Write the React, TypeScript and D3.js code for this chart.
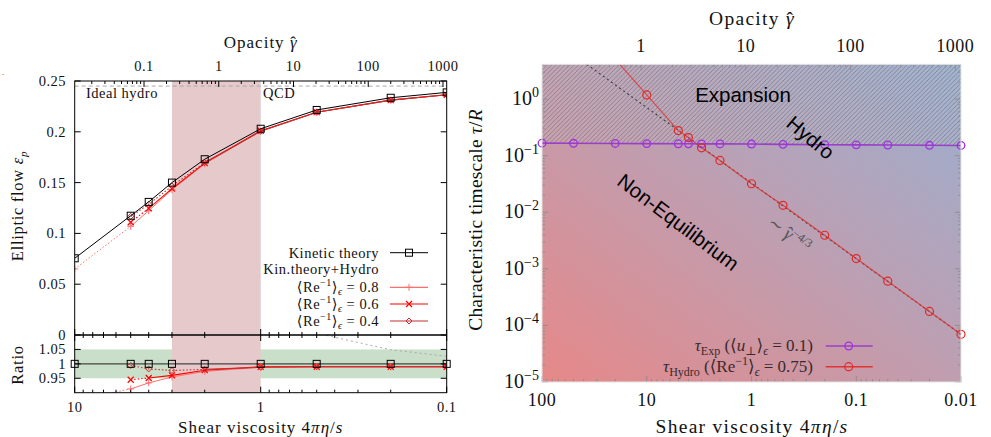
import React from 'react';
import * as d3 from 'd3';

// ---------- Left panel data ----------
const viscLeft = [10, 5, 4, 3, 2, 1, 0.5, 0.2, 0.1];
const kinetic = [0.0755, 0.1174, 0.131, 0.15, 0.173, 0.203, 0.2215, 0.2335, 0.2388];
const hydro08 = [0.065, 0.107, 0.1223, 0.143, 0.1685, 0.2006, 0.2193, 0.2312, 0.2364];
const hydro06 = [null, 0.111, 0.1246, 0.144, 0.1692, 0.201, 0.2193, 0.2312, 0.2364];
const hydro04 = [null, 0.1167, 0.1287, 0.1466, 0.1697, 0.2006, 0.2193, 0.2312, 0.2364];
const ratioKin = [1, 1, 1, 1, 1, 1, 1, 1, 1];
const ratio08 = [0.874, 0.913, 0.934, 0.9545, 0.974, 0.988, 0.99, 0.99, 0.99];
const ratio06 = [null, 0.945, 0.951, 0.96, 0.978, 0.99, 0.99, 0.99, 0.99];
const ratio04 = [null, 0.9944, 0.9825, 0.977, 0.981, 0.988, 0.99, 0.99, 0.99];
const idealVisc = [0.5, 0.2, 0.1];
const idealRatio = [1.106, 1.049, 1.026];
const idealHydro = 0.245;
const qcdBand = [3, 1];
const ratioBand = [0.95, 1.05];
const mainTicks = [0, 0.05, 0.1, 0.15, 0.2, 0.25];
const mainTickLabels = ['0', '0.05', '0.1', '0.15', '0.2', '0.25'];
const ratioTicks = [0.95, 1, 1.05];
const ratioTickLabels = ['0.95', '1', '1.05'];
const viscTicksL = [10, 1, 0.1];
const viscTickLabelsL = ['10', '1', '0.1'];
const opacTicksL = [0.1, 1, 10, 100, 1000];
const opacTickLabelsL = ['0.1', '1', '10', '100', '1000'];

// ---------- Right panel data ----------
const viscExp = [100, 50, 20, 10, 5, 4, 3, 2, 1, 0.5, 0.2, 0.1, 0.05, 0.02, 0.01];
const tauExp = [0.167, 0.166, 0.165, 0.164, 0.163, 0.163, 0.162, 0.162, 0.161, 0.159, 0.157, 0.156, 0.155, 0.153, 0.152];
const viscHydro = [20, 10, 5, 4, 3, 2, 1, 0.5, 0.2, 0.1, 0.05, 0.02, 0.01];
const tauHydro = [5.1, 1.19, 0.279, 0.21, 0.138, 0.0826, 0.032, 0.0133, 0.00393, 0.00152, 0.000607, 0.000177, 0.0000697];
const guideVisc = [37.4, 0.01];
const guideTau = [4.14, 0.0000697];
const viscTicksR = [100, 10, 1, 0.1, 0.01];
const viscTickLabelsR = ['100', '10', '1', '0.1', '0.01'];
const opacTicksR = [1, 10, 100, 1000];
const opacTickLabelsR = ['1', '10', '100', '1000'];
const tauTickExp = [0, -1, -2, -3, -4, -5];

// ---------- Scales ----------
const L = { x0: 74.7, x1: 446.7, yTop: 81, yMid: 335, yBot: 392.7 };
const xL = d3.scaleLog().domain([10, 0.1]).range([L.x0, L.x1]);
const xLtop = d3.scaleLog().domain([0.01182, 1121]).range([L.x0, L.x1]);
const yMain = d3.scaleLinear().domain([0, 0.25]).range([L.yMid, L.yTop]);
const yRat = d3.scaleLinear().domain([0.9, 1.1]).range([L.yBot, L.yMid]);

const R = { x0: 542, x1: 961, y0: 64.3, y1: 382 };
const xR = d3.scaleLog().domain([100, 0.01]).range([R.x0, R.x1]);
const xRtop = d3.scaleLog().domain([0.1135, 1135]).range([R.x0, R.x1]);
const yR = d3.scaleLog().domain([1e-5, 4.14]).range([R.y1, R.y0]);

function logMinor(domain: number[]) {
  const lo = Math.min(domain[0], domain[1]);
  const hi = Math.max(domain[0], domain[1]);
  const out: number[] = [];
  for (let k = Math.floor(Math.log10(lo)) - 1; k <= Math.ceil(Math.log10(hi)); k++) {
    for (let m = 1; m <= 9; m++) {
      const v = m * Math.pow(10, k);
      if (v >= lo * 0.999 && v <= hi * 1.001) out.push(v);
    }
  }
  return out;
}

const serif = "'Liberation Serif', 'DejaVu Serif', serif";
const sans = "'Liberation Sans', Arial, sans-serif";

const red08 = '#ff6e6e';
const red06 = '#ff0000';
const red04 = '#c43030';

function segs(xs: number[], ys: (number | null)[], dottedUntil: number) {
  const pts: [number, number, number][] = [];
  xs.forEach((x, i) => { if (ys[i] != null) pts.push([x, ys[i] as number, i]); });
  const dotted = pts.filter(p => p[2] <= dottedUntil);
  const solid = pts.filter(p => p[2] >= dottedUntil);
  return { dotted, solid, pts };
}

function Marker({ type, x, y, color }: { type: string; x: number; y: number; color: string }) {
  if (type === 'square') return <rect x={x - 3.5} y={y - 3.5} width={7} height={7} fill="none" stroke={color} strokeWidth={1} />;
  if (type === 'plus') return <path d={`M${x - 3.5},${y}h7M${x},${y - 3.5}v7`} stroke={color} strokeWidth={1} />;
  if (type === 'cross') return <path d={`M${x - 3},${y - 3}l6,6M${x - 3},${y + 3}l6,-6`} stroke={color} strokeWidth={1.2} />;
  if (type === 'diamond') return <path d={`M${x},${y - 3}l3,3l-3,3l-3,-3z`} fill="none" stroke={color} strokeWidth={1} />;
  return null;
}

function GammaHat() {
  return (
    <>
      <tspan fontStyle="italic">γ</tspan>
      <tspan dx="-0.43em" dy="-0.02em" letterSpacing={0}>ˆ</tspan>
    </>
  );
}

function SeriesL({ ys, yScale, color, marker, dottedUntil, width }: any) {
  const { dotted, solid, pts } = segs(viscLeft, ys, dottedUntil);
  const line = d3.line<[number, number, number]>().x(p => xL(p[0])).y(p => yScale(p[1]));
  return (
    <g>
      {dotted.length > 1 && <path d={line(dotted) || ''} fill="none" stroke={color} strokeWidth={width} strokeDasharray="1.5,2" />}
      {solid.length > 1 && <path d={line(solid) || ''} fill="none" stroke={color} strokeWidth={width} />}
      {pts.map((p, i) => {
        const yy = yScale(p[1]);
        if (yy > L.yBot + 1) return null;
        return <Marker key={i} type={marker} x={xL(p[0])} y={yy} color={color} />;
      })}
    </g>
  );
}

function LeftPanel() {
  const fs = 14.5;
  const minorB = logMinor(xL.domain());
  const minorT = logMinor(xLtop.domain());
  const kinPts = viscLeft.map((v, i) => [v, kinetic[i]] as [number, number]);
  const legendRows = [252.7, 269.3, 287.3, 304, 321];
  const lgTextX = 379;
  const lgX0 = 390, lgX1 = 428, lgM = 409;
  const idealLine = d3.line<number>().x((v) => xL(v)).y((_, i) => yRat(idealRatio[i]));
  return (
    <g fontFamily={serif} fontSize={fs} fill="#111" letterSpacing={0.5}>
      <defs>
        <clipPath id="clipMain"><rect x={L.x0} y={L.yTop} width={L.x1 - L.x0} height={L.yMid - L.yTop} /></clipPath>
        <clipPath id="clipRat"><rect x={L.x0} y={L.yMid} width={L.x1 - L.x0} height={L.yBot - L.yMid} /></clipPath>
      </defs>
      <rect x={L.x0} y={yRat(ratioBand[1])} width={L.x1 - L.x0} height={yRat(ratioBand[0]) - yRat(ratioBand[1])} fill="#c9dfc9" />
      <rect x={xL(qcdBand[0])} y={L.yTop} width={xL(qcdBand[1]) - xL(qcdBand[0])} height={L.yBot - L.yTop} fill="#e6c9ca" />
      <line x1={L.x0} x2={L.x1} y1={yMain(idealHydro)} y2={yMain(idealHydro)} stroke="#aaa" strokeDasharray="4,3" strokeWidth={1} />
      <g clipPath="url(#clipRat)">
        <path d={idealLine(idealVisc) || ''} fill="none" stroke="#aaa" strokeDasharray="2,3" strokeWidth={1} />
      </g>
      <g clipPath="url(#clipMain)">
        <SeriesL ys={hydro08} yScale={yMain} color={red08} marker="plus" dottedUntil={1} width={1} />
        <SeriesL ys={hydro06} yScale={yMain} color={red06} marker="cross" dottedUntil={2} width={1.1} />
        <SeriesL ys={hydro04} yScale={yMain} color={red04} marker="diamond" dottedUntil={4} width={1.1} />
        <path d={d3.line<[number, number]>().x(p => xL(p[0])).y(p => yMain(p[1]))(kinPts) || ''} fill="none" stroke="#000" strokeWidth={1} />
        {kinPts.map((p, i) => <Marker key={i} type="square" x={xL(p[0])} y={yMain(p[1])} color="#000" />)}
      </g>
      <g clipPath="url(#clipRat)">
        <path d={d3.line<number>().x(v => xL(v)).y((_, i) => yRat(ratioKin[i]))(viscLeft) || ''} fill="none" stroke="#444" strokeWidth={1.4} />
        <SeriesL ys={ratio08} yScale={yRat} color={red08} marker="plus" dottedUntil={1} width={1} />
        <SeriesL ys={ratio06} yScale={yRat} color={red06} marker="cross" dottedUntil={2} width={1.1} />
        <SeriesL ys={ratio04} yScale={yRat} color={red04} marker="diamond" dottedUntil={4} width={1.1} />
      </g>
      {viscLeft.map((v, i) => <Marker key={'rk' + i} type="square" x={xL(v)} y={yRat(ratioKin[i])} color="#000" />)}

      <rect x={L.x0} y={L.yTop} width={L.x1 - L.x0} height={L.yBot - L.yTop} fill="none" stroke="#000" strokeWidth={1} />
      <line x1={L.x0} x2={L.x1} y1={L.yMid} y2={L.yMid} stroke="#000" strokeWidth={1.6} />

      {mainTicks.map((t, i) => (
        <g key={'ym' + i}>
          <line x1={L.x0} x2={L.x0 + 6} y1={yMain(t)} y2={yMain(t)} stroke="#000" />
          <line x1={L.x1} x2={L.x1 - 6} y1={yMain(t)} y2={yMain(t)} stroke="#000" />
          <text x={66} y={yMain(t) + 5} textAnchor="end">{mainTickLabels[i]}</text>
        </g>
      ))}
      {ratioTicks.map((t, i) => (
        <g key={'yr' + i}>
          <line x1={L.x0} x2={L.x0 + 6} y1={yRat(t)} y2={yRat(t)} stroke="#000" />
          <line x1={L.x1} x2={L.x1 - 6} y1={yRat(t)} y2={yRat(t)} stroke="#000" />
          <text x={66} y={yRat(t) + 5} textAnchor="end">{ratioTickLabels[i]}</text>
        </g>
      ))}
      {minorB.map((v, i) => {
        const major = viscTicksL.includes(v);
        const len = major ? 6 : 3;
        const x = xL(v);
        return (
          <g key={'bt' + i} stroke="#000">
            <line x1={x} x2={x} y1={L.yBot} y2={L.yBot - len} />
            <line x1={x} x2={x} y1={L.yMid} y2={L.yMid - len} />
            <line x1={x} x2={x} y1={L.yMid} y2={L.yMid + len} />
          </g>
        );
      })}
      {viscTicksL.map((v, i) => (
        <text key={'bl' + i} x={xL(v)} y={412} textAnchor="middle">{viscTickLabelsL[i]}</text>
      ))}
      {minorT.map((v, i) => {
        const major = opacTicksL.includes(v);
        const len = major ? 6 : 3;
        const x = xLtop(v);
        return <line key={'tt' + i} x1={x} x2={x} y1={L.yTop} y2={L.yTop + len} stroke="#000" />;
      })}
      {opacTicksL.map((v, i) => (
        <text key={'tl' + i} x={xLtop(v)} y={71} textAnchor="middle">{opacTickLabelsL[i]}</text>
      ))}

      <text x={(L.x0 + L.x1) / 2} y={433} textAnchor="middle" fontSize={17} letterSpacing={1}>Shear viscosity 4<tspan fontStyle="italic">πη</tspan>/<tspan fontStyle="italic">s</tspan></text>
      <text x={(L.x0 + L.x1) / 2} y={48} textAnchor="middle" fontSize={17} letterSpacing={1}>Opacity <GammaHat /></text>
      <text transform="translate(23,206) rotate(-90)" textAnchor="middle" fontSize={16.5} letterSpacing={0.7}>Elliptic flow <tspan fontStyle="italic">ε</tspan><tspan fontStyle="italic" fontSize={11} dy={4}>p</tspan></text>
      <text transform="translate(23,365) rotate(-90)" textAnchor="middle" fontSize={16.5} letterSpacing={0.7}>Ratio</text>
      <text x={86} y={98}>Ideal hydro</text>
      <text x={263} y={98}>QCD</text>

      <text x={lgTextX} y={legendRows[0] + 5} textAnchor="end">Kinetic theory</text>
      <line x1={lgX0} x2={lgX1} y1={legendRows[0]} y2={legendRows[0]} stroke="#000" />
      <Marker type="square" x={lgM} y={legendRows[0]} color="#000" />
      <text x={lgTextX} y={legendRows[1] + 5} textAnchor="end">Kin.theory+Hydro</text>
      {[['0.8', red08, 'plus'], ['0.6', red06, 'cross'], ['0.4', red04, 'diamond']].map((r, i) => {
        const y = legendRows[i + 2];
        return (
          <g key={'lg' + i}>
            <text x={lgTextX} y={y + 5} textAnchor="end">⟨Re<tspan fontSize={10} dy={-6}>−1</tspan><tspan dy={6}>⟩</tspan><tspan fontSize={10} fontStyle="italic" dy={3}>ϵ</tspan><tspan dy={-3}> = {r[0]}</tspan></text>
            <line x1={lgX0} x2={lgX1} y1={y} y2={y} stroke={r[1]} strokeWidth={1.2} />
            <Marker type={r[2]} x={lgM} y={y} color={r[1]} />
          </g>
        );
      })}
      <text x={2} y={75} fontSize={8}>.</text>
    </g>
  );
}

function RightPanel() {
  const minorX = logMinor(xR.domain());
  const minorXT = logMinor(xRtop.domain());
  const minorY = logMinor(yR.domain());
  const tickC = '#8a8a8a';
  const expPts = viscExp.map((v, i) => [v, tauExp[i]] as [number, number]);
  const hydPts = viscHydro.map((v, i) => [v, tauHydro[i]] as [number, number]);
  const line = d3.line<[number, number]>().x(p => xR(p[0])).y(p => yR(p[1]));
  const hatchArea = d3.area<[number, number]>().x(p => xR(p[0])).y0(R.y0).y1(p => yR(p[1]));
  const guidePts = guideVisc.map((v, i) => [v, guideTau[i]] as [number, number]);
  const lgY = [346, 366.7];
  return (
    <g fontFamily={serif} fontSize={18} fill="#111">
      <defs>
        <linearGradient id="bg" x1="0" y1="1" x2="1" y2="0">
          <stop offset="0" stopColor="#e68888" />
          <stop offset="0.5" stopColor="#bf9eb0" />
          <stop offset="1" stopColor="#9aafd0" />
        </linearGradient>
        <pattern id="hatch" patternUnits="userSpaceOnUse" width={4.5} height={4.5}>
          <path d="M-1,1l2,-2M0,4.5l4.5,-4.5M3.5,5.5l2,-2" stroke="#444" strokeOpacity={0.5} strokeWidth={0.8} />
        </pattern>
        <clipPath id="clipR"><rect x={R.x0} y={R.y0} width={R.x1 - R.x0} height={R.y1 - R.y0} /></clipPath>
      </defs>
      <rect x={R.x0} y={R.y0} width={R.x1 - R.x0} height={R.y1 - R.y0} fill="url(#bg)" />
      <path d={hatchArea(expPts) || ''} fill="#d8d8de" fillOpacity={0.15} />
      <path d={hatchArea(expPts) || ''} fill="url(#hatch)" />

      {minorY.map((v, i) => {
        const e = Math.log10(v);
        const major = Math.abs(e - Math.round(e)) < 1e-6;
        const len = major ? 6 : 3;
        const y = yR(v);
        return (
          <g key={'ry' + i} stroke={tickC} strokeWidth={0.8}>
            <line x1={R.x0} x2={R.x0 + len} y1={y} y2={y} />
            <line x1={R.x1} x2={R.x1 - len} y1={y} y2={y} />
          </g>
        );
      })}
      {minorX.map((v, i) => {
        const major = viscTicksR.includes(v);
        const len = major ? 6 : 3;
        const x = xR(v);
        return <line key={'rx' + i} x1={x} x2={x} y1={R.y1} y2={R.y1 - len} stroke={tickC} strokeWidth={0.8} />;
      })}
      {minorXT.map((v, i) => {
        const major = opacTicksR.includes(v);
        const len = major ? 6 : 3;
        const x = xRtop(v);
        return <line key={'rxt' + i} x1={x} x2={x} y1={R.y0} y2={R.y0 + len} stroke={tickC} strokeWidth={0.8} />;
      })}

      <path d={line(guidePts) || ''} fill="none" stroke="#3a3a3a" strokeWidth={1.1} strokeDasharray="2,3" />
      <g clipPath="url(#clipR)">
        <path d={line(hydPts) || ''} fill="none" stroke="#e03535" strokeOpacity={0.8} strokeWidth={1.2} />
      </g>
      <path d={line(expPts) || ''} fill="none" stroke="#9a3fc8" strokeWidth={1.6} />
      {expPts.map((p, i) => <circle key={'ec' + i} cx={xR(p[0])} cy={yR(p[1])} r={3.8} fill="none" stroke="#a030e0" strokeWidth={1.3} />)}
      {hydPts.map((p, i) => {
        const y = yR(p[1]);
        if (y < R.y0) return null;
        return <circle key={'hc' + i} cx={xR(p[0])} cy={y} r={4} fill="none" stroke="#e02828" strokeWidth={1.2} />;
      })}

      <rect x={R.x0} y={R.y0} width={R.x1 - R.x0} height={R.y1 - R.y0} fill="none" stroke="#e4e4e4" strokeWidth={1} />

      <text x={743} y={102} textAnchor="middle" fontFamily={sans} fontSize={20.5} fill="#000">Expansion</text>
      <text transform="translate(806,143) rotate(40)" textAnchor="middle" fontFamily={sans} fontSize={20.5} fill="#000">Hydro</text>
      <text transform="translate(674,228) rotate(37)" textAnchor="middle" fontFamily={sans} fontSize={20.5} fill="#000">Non-Equilibrium</text>
      <text transform="translate(786,239) rotate(36)" textAnchor="middle" fontSize={18} fill="#555">∼ <GammaHat /><tspan fontSize={12} dx={1} dy={-6}>−4/3</tspan></text>

      {tauTickExp.map((e, i) => (
        <text key={'yl' + i} x={539} y={yR(Math.pow(10, e)) + 6} textAnchor="end" fontSize={20}>10<tspan fontSize={14} dy={-8}>{e === 0 ? '0' : '−' + Math.abs(e)}</tspan></text>
      ))}
      {viscTicksR.map((v, i) => (
        <text key={'xl' + i} x={xR(v)} y={406} textAnchor="middle" letterSpacing={0.5}>{viscTickLabelsR[i]}</text>
      ))}
      {opacTicksR.map((v, i) => (
        <text key={'xtl' + i} x={xRtop(v)} y={52} textAnchor="middle" letterSpacing={0.5}>{opacTickLabelsR[i]}</text>
      ))}
      <text x={752} y={433} textAnchor="middle" fontSize={19.5} letterSpacing={1.3}>Shear viscosity 4<tspan fontStyle="italic">πη</tspan>/<tspan fontStyle="italic">s</tspan></text>
      <text x={752} y={25} textAnchor="middle" fontSize={19.5} letterSpacing={1.3}>Opacity <GammaHat /></text>
      <text transform="translate(482,220) rotate(-90)" textAnchor="middle" fontSize={19.5} letterSpacing={0.2}>Characteristic timescale <tspan fontStyle="italic">τ</tspan>/<tspan fontStyle="italic">R</tspan></text>

      <text x={813} y={lgY[0] + 5} textAnchor="end" fontSize={17} fill="#3a2a2e"><tspan fontStyle="italic">τ</tspan><tspan fontSize={12} dy={4}>Exp</tspan><tspan dy={-4}> (⟨</tspan><tspan fontStyle="italic">u</tspan><tspan fontSize={12} dy={4}>⊥</tspan><tspan dy={-4}>⟩</tspan><tspan fontSize={12} fontStyle="italic" dy={4}>ϵ</tspan><tspan dy={-4}> = 0.1)</tspan></text>
      <line x1={825.7} x2={872.7} y1={lgY[0]} y2={lgY[0]} stroke="#9a3fc8" strokeWidth={1.6} />
      <circle cx={848.7} cy={lgY[0]} r={3.8} fill="none" stroke="#a030e0" strokeWidth={1.3} />
      <text x={813} y={lgY[1] + 5} textAnchor="end" fontSize={17} fill="#3a2a2e"><tspan fontStyle="italic">τ</tspan><tspan fontSize={12} dy={4}>Hydro</tspan><tspan dy={-4}> (⟨Re</tspan><tspan fontSize={12} dy={-7}>−1</tspan><tspan dy={7}>⟩</tspan><tspan fontSize={12} fontStyle="italic" dy={4}>ϵ</tspan><tspan dy={-4}> = 0.75)</tspan></text>
      <line x1={825.7} x2={872.7} y1={lgY[1]} y2={lgY[1]} stroke="#e03535" strokeWidth={1.4} />
      <circle cx={848.7} cy={lgY[1]} r={4} fill="none" stroke="#e02828" strokeWidth={1.2} />
    </g>
  );
}

export default function App() {
  return (
    <svg width={991} height={437} viewBox="0 0 991 437" style={{ position: 'fixed', left: 0, top: 0, background: '#fff' }}>
      <rect x={0} y={0} width={991} height={437} fill="#fff" />
      <LeftPanel />
      <RightPanel />
    </svg>
  );
}
